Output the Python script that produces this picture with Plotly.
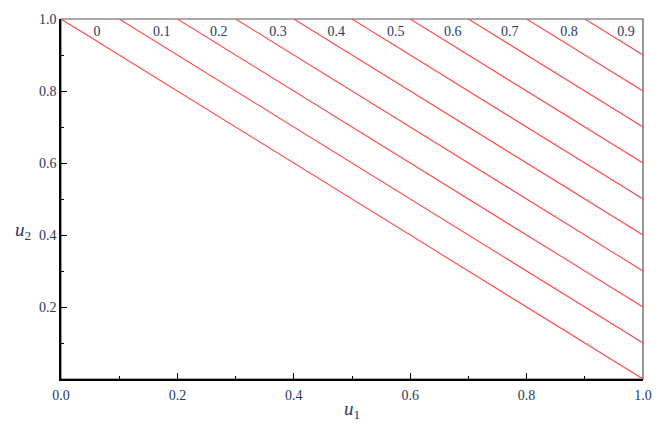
import plotly.graph_objects as go

levels = [0, 0.1, 0.2, 0.3, 0.4, 0.5, 0.6, 0.7, 0.8, 0.9]
level_labels = ["0", "0.1", "0.2", "0.3", "0.4", "0.5", "0.6", "0.7", "0.8", "0.9"]
label_x = [0.062, 0.173, 0.271, 0.373, 0.473, 0.575, 0.673, 0.771, 0.873, 0.971]
label_y = [0.963] * 10
x_ticks = [0.0, 0.2, 0.4, 0.6, 0.8, 1.0]
x_ticktext = ["0.0", "0.2", "0.4", "0.6", "0.8", "1.0"]
y_ticks = [0.2, 0.4, 0.6, 0.8, 1.0]
y_ticktext = ["0.2", "0.4", "0.6", "0.8", "1.0"]

LINE_RED = "#ff4a4a"
TXT = "#2a3860"
FONT = "Liberation Serif, DejaVu Serif, serif"

fig = go.Figure()
for c in levels:
    fig.add_trace(go.Scatter(x=[c, 1.0], y=[1.0, c], mode="lines",
                             line=dict(color=LINE_RED, width=1.1),
                             showlegend=False, hoverinfo="skip"))

fig.add_trace(go.Scatter(x=label_x, y=label_y, mode="text", text=level_labels,
                         textfont=dict(family=FONT, size=14, color=TXT),
                         textposition="middle center", showlegend=False,
                         cliponaxis=False, hoverinfo="skip"))

axis_common = dict(showgrid=False, zeroline=False, showline=True,
                   linecolor="black", linewidth=1.6, ticks="inside",
                   ticklen=6, tickwidth=1.2, tickcolor="black",
                   tickfont=dict(family=FONT, size=14, color=TXT),
                   minor=dict(ticks="inside", ticklen=3, tickwidth=1,
                              tickcolor="black", dtick=0.1, showgrid=False))

fig.update_xaxes(range=[0, 1], tickvals=x_ticks, ticktext=x_ticktext,
                 title=dict(text="<i>u</i><sub>1</sub>",
                            font=dict(family=FONT, size=19, color=TXT),
                            standoff=0),
                 ticklabelstandoff=2, **axis_common)
fig.update_yaxes(range=[0, 1], tickvals=y_ticks, ticktext=y_ticktext,
                 ticklabelstandoff=0, **axis_common)

fig.add_annotation(text="<i>u</i><sub>2</sub>", xref="paper", yref="paper",
                   x=-0.066, y=0.41, xanchor="center", yanchor="middle",
                   showarrow=False, font=dict(family=FONT, size=19, color=TXT))

fig.add_shape(type="rect", xref="paper", yref="paper", x0=0, y0=0, x1=1, y1=1,
              line=dict(color="#555555", width=1.2), layer="below")

fig.update_layout(width=664, height=428,
                  margin=dict(l=61, r=13, t=15, b=43),
                  paper_bgcolor="white", plot_bgcolor="white")

fig.write_html("out.html")
